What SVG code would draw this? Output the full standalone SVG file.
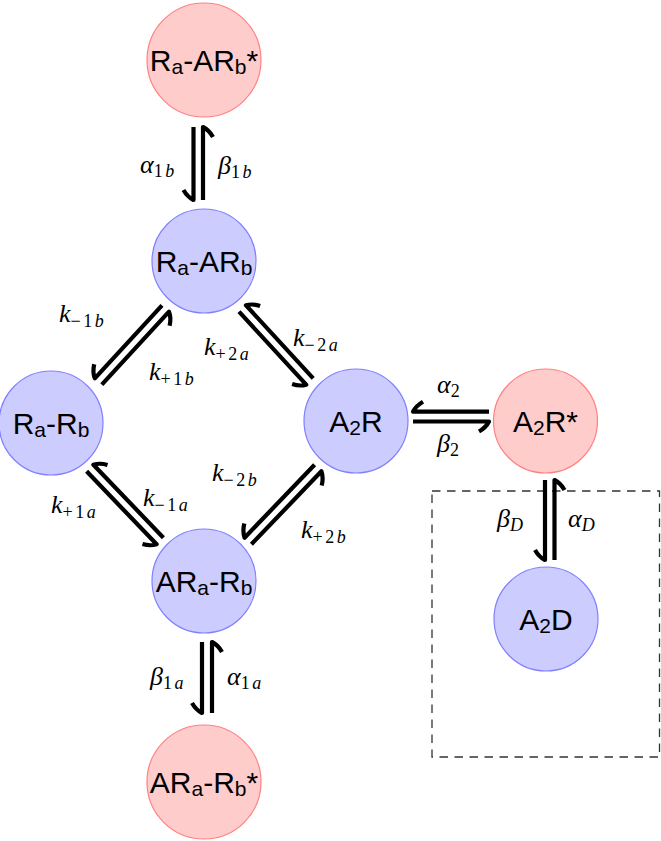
<svg xmlns="http://www.w3.org/2000/svg" width="661" height="841" viewBox="0 0 661 841">
<style>
.nb{fill:#ccccff;stroke:#8080ff;stroke-width:1.2}
.nr{fill:#ffcccc;stroke:#ff8080;stroke-width:1.2}
.nt{font-family:"Liberation Sans",Arial,sans-serif;font-size:30px;fill:#000;text-anchor:middle}
.sb{font-size:21px}
.ar{fill:none;stroke:#000;stroke-width:4.2;stroke-linejoin:round}
.lb{font-family:"Liberation Serif","Times New Roman",serif;font-style:italic;font-size:26px;fill:#000}
.ls{font-size:18px;font-style:normal;letter-spacing:2.5px}
.it{font-style:italic}
.box{fill:none;stroke:#333;stroke-width:1.3;stroke-dasharray:8.5 6.5}
</style>
<rect class="box" x="432" y="491" width="227.5" height="266"/>
<g id="connectors">
<path class="ar" d="M193.5 127 L193.5 200 Q187.5 197 183.5 190"/>
<path class="ar" d="M203 200 L203 127 Q209 130 213 137"/>
<path class="ar" d="M202 642 L202 713 Q196 710 192 703"/>
<path class="ar" d="M212 713 L212 642 Q218 645 222 652"/>
<path class="ar" d="M545 480 L545 560 Q539 557 535 550"/>
<path class="ar" d="M554.5 560 L554.5 480 Q560.5 483 564.5 490"/>
<path class="ar" d="M489 411.7 L413 411.7 Q416 405.7 423 401.7"/>
<path class="ar" d="M413 421.5 L489 421.5 Q486 427.5 479 431.5"/>
<path class="ar" d="M162 305.3 L94.8 378.3 Q92.4 372 94.2 364.2"/>
<path class="ar" d="M101.8 384.7 L169 311.7 Q171.4 318 169.6 325.8"/>
<path class="ar" d="M239 311.7 L306.2 384.7 Q299.8 386.6 292.1 384.1"/>
<path class="ar" d="M313.2 378.3 L246 305.3 Q252.5 303.4 260.1 305.9"/>
<path class="ar" d="M86.6 471.3 L156.6 544.3 Q150.2 546.3 142.5 544"/>
<path class="ar" d="M163.4 537.7 L93.4 464.7 Q99.8 462.7 107.5 465"/>
<path class="ar" d="M314.6 464.7 L244.6 537.7 Q242.4 531.4 244.3 523.6"/>
<path class="ar" d="M251.4 544.3 L321.4 471.3 Q323.7 477.6 321.7 485.4"/>
<text class="lb" x="140" y="173">α<tspan class="ls" dy="4">1<tspan class="it">b</tspan></tspan></text>
<text class="lb" x="218" y="174">β<tspan class="ls" dy="4">1<tspan class="it">b</tspan></tspan></text>
<text class="lb" x="59" y="322">k<tspan class="ls" dy="5">−1<tspan class="it">b</tspan></tspan></text>
<text class="lb" x="149" y="380">k<tspan class="ls" dy="5">+1<tspan class="it">b</tspan></tspan></text>
<text class="lb" x="204" y="355">k<tspan class="ls" dy="5">+2<tspan class="it">a</tspan></tspan></text>
<text class="lb" x="293" y="346">k<tspan class="ls" dy="5">−2<tspan class="it">a</tspan></tspan></text>
<text class="lb" x="437" y="393">α<tspan class="ls" dy="4">2</tspan></text>
<text class="lb" x="437" y="452">β<tspan class="ls" dy="4">2</tspan></text>
<text class="lb" x="51" y="513">k<tspan class="ls" dy="5">+1<tspan class="it">a</tspan></tspan></text>
<text class="lb" x="143" y="506">k<tspan class="ls" dy="5">−1<tspan class="it">a</tspan></tspan></text>
<text class="lb" x="212" y="481">k<tspan class="ls" dy="5">−2<tspan class="it">b</tspan></tspan></text>
<text class="lb" x="301" y="538">k<tspan class="ls" dy="5">+2<tspan class="it">b</tspan></tspan></text>
<text class="lb" x="150" y="685">β<tspan class="ls" dy="4">1<tspan class="it">a</tspan></tspan></text>
<text class="lb" x="227" y="685">α<tspan class="ls" dy="4">1<tspan class="it">a</tspan></tspan></text>
<text class="lb" x="497" y="527">β<tspan class="ls it" dy="4">D</tspan></text>
<text class="lb" x="568" y="527">α<tspan class="ls it" dy="4">D</tspan></text>
</g>
<g id="n1">
<circle class="nr" cx="204" cy="60" r="57"/>
<text class="nt" x="204" y="71">R<tspan class="sb" dy="3">a</tspan><tspan dy="-3">-AR</tspan><tspan class="sb" dy="3">b</tspan><tspan dy="-3">*</tspan></text>
</g>
<g id="n2">
<circle class="nb" cx="204" cy="261" r="52"/>
<text class="nt" x="204" y="272">R<tspan class="sb" dy="3">a</tspan><tspan dy="-3">-AR</tspan><tspan class="sb" dy="3">b</tspan></text>
</g>
<g id="n3">
<circle class="nb" cx="51" cy="423" r="52"/>
<text class="nt" x="51" y="434">R<tspan class="sb" dy="3">a</tspan><tspan dy="-3">-R</tspan><tspan class="sb" dy="3">b</tspan></text>
</g>
<g id="n4">
<circle class="nb" cx="356" cy="421" r="52"/>
<text class="nt" x="356" y="432">A<tspan class="sb" dy="3">2</tspan><tspan dy="-3">R</tspan></text>
</g>
<g id="n5">
<circle class="nb" cx="204" cy="581" r="52"/>
<text class="nt" x="204" y="592">AR<tspan class="sb" dy="3">a</tspan><tspan dy="-3">-R</tspan><tspan class="sb" dy="3">b</tspan></text>
</g>
<g id="n6">
<circle class="nr" cx="204" cy="782" r="57"/>
<text class="nt" x="204" y="793">AR<tspan class="sb" dy="3">a</tspan><tspan dy="-3">-R</tspan><tspan class="sb" dy="3">b</tspan><tspan dy="-3">*</tspan></text>
</g>
<g id="n7">
<circle class="nr" cx="545.5" cy="421" r="52"/>
<text class="nt" x="545.5" y="432">A<tspan class="sb" dy="3">2</tspan><tspan dy="-3">R*</tspan></text>
</g>
<g id="n8">
<circle class="nb" cx="546" cy="619" r="52"/>
<text class="nt" x="546" y="630">A<tspan class="sb" dy="3">2</tspan><tspan dy="-3">D</tspan></text>
</g>
</svg>
